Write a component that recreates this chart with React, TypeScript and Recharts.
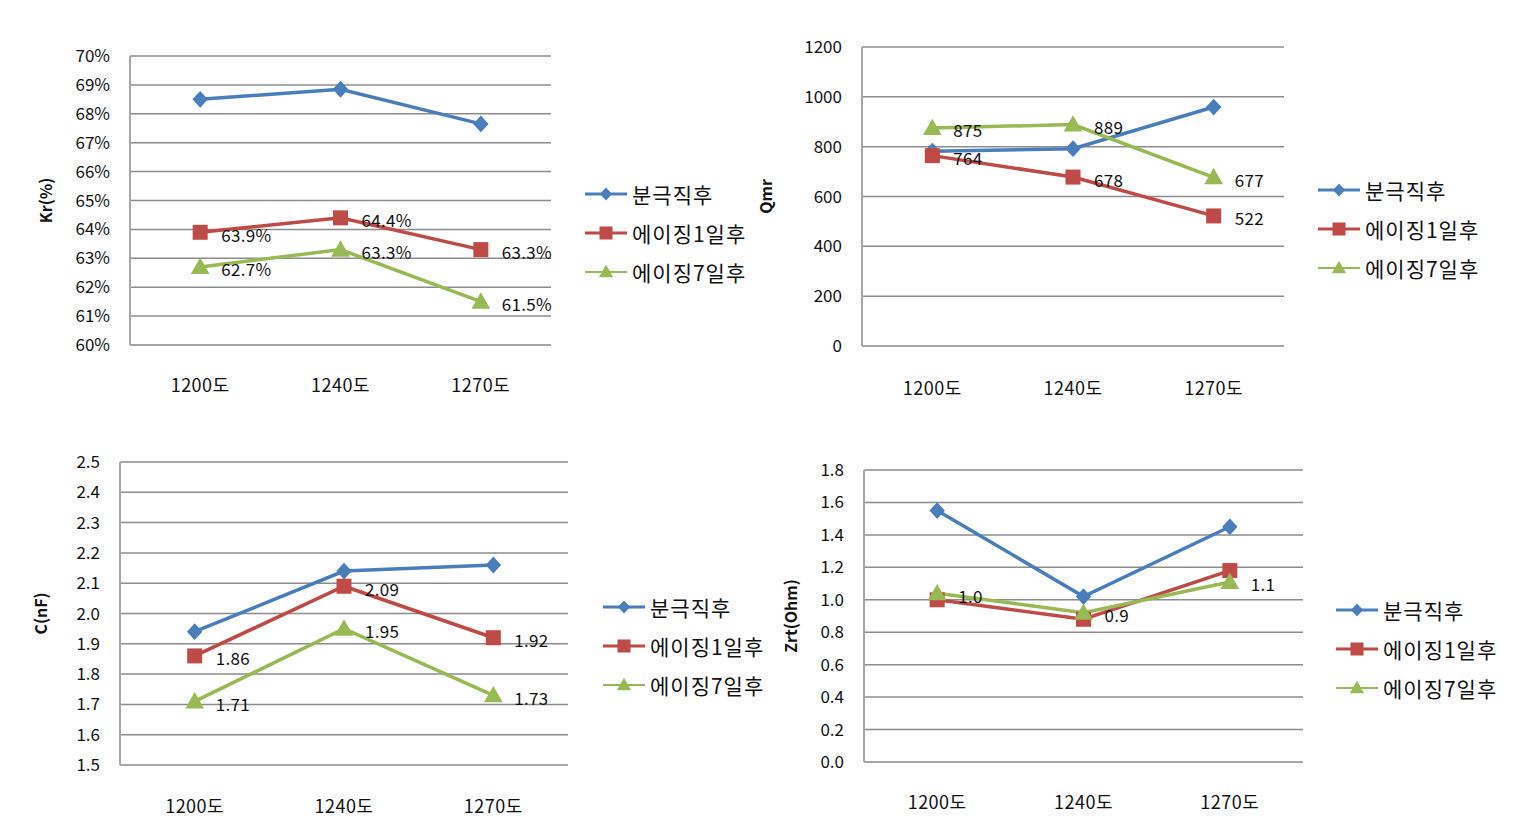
import { LineChart, Line, XAxis, YAxis, CartesianGrid, Legend, LabelList } from "recharts";

const categories = ["1200도", "1240도", "1270도"];
const seriesNames = ["분극직후", "에이징1일후", "에이징7일후"];

// Kr(%)
const krPolarized = [68.5, 68.85, 67.65];
const krAging1 = [63.9, 64.4, 63.3];
const krAging7 = [62.7, 63.3, 61.5];
const krTicks = [60, 61, 62, 63, 64, 65, 66, 67, 68, 69, 70];

// Qmr
const qmrPolarized = [782, 792, 959];
const qmrAging1 = [764, 678, 522];
const qmrAging7 = [875, 889, 677];
const qmrTicks = [0, 200, 400, 600, 800, 1000, 1200];

// C(nF)
const capPolarized = [1.94, 2.14, 2.16];
const capAging1 = [1.86, 2.09, 1.92];
const capAging7 = [1.71, 1.95, 1.73];
const capTicks = [1.5, 1.6, 1.7, 1.8, 1.9, 2.0, 2.1, 2.2, 2.3, 2.4, 2.5];

// Zrt(Ohm)
const zrtPolarized = [1.55, 1.02, 1.45];
const zrtAging1 = [1.0, 0.88, 1.18];
const zrtAging7 = [1.04, 0.92, 1.11];
const zrtTicks = [0, 0.2, 0.4, 0.6, 0.8, 1.0, 1.2, 1.4, 1.6, 1.8];

const BLUE = "#4A7EBB";
const RED = "#BE4B48";
const GREEN = "#98B954";
const GRID = "#8c8c8c";
const BORDER = "#a6a6a6";
const FONT = '"Noto Sans CJK KR", "Noto Sans", sans-serif';
const colors = [BLUE, RED, GREEN];

const build = (a: number[], b: number[], c: number[]) =>
  categories.map((cat, i) => ({ cat, s0: a[i], s1: b[i], s2: c[i] }));

function Marker({ kind, cx, cy, color, size }: { kind: number; cx: number; cy: number; color: string; size: number }) {
  if (kind === 0) {
    const h = size * 0.55;
    const v = size * 0.6;
    return <polygon points={`${cx},${cy - v} ${cx + h},${cy} ${cx},${cy + v} ${cx - h},${cy}`} fill={color} />;
  }
  if (kind === 1) {
    const h = size / 2;
    return <rect x={cx - h} y={cy - h} width={size} height={size} fill={color} />;
  }
  const h = size * 0.55;
  return <polygon points={`${cx},${cy - h} ${cx + h},${cy + h * 0.75} ${cx - h},${cy + h * 0.75}`} fill={color} />;
}

const sizes = [14, 15, 17];

const makeDot = (kind: number) => (props: any) => {
  const { cx, cy, index } = props;
  if (cx == null || cy == null) return <g key={`d-${kind}-${index}`} />;
  return (
    <g key={`d-${kind}-${index}`}>
      <Marker kind={kind} cx={cx} cy={cy} color={colors[kind]} size={sizes[kind]} />
    </g>
  );
};

const makeLabel = (fmt: (v: number) => string) => (props: any) => {
  const { x, y, value, index } = props;
  return (
    <text key={`l-${index}`} x={x + 21} y={y + 2} fontSize={17} letterSpacing={0.3} fontFamily={FONT} fill="#111" dominantBaseline="central" textAnchor="start">
      {fmt(Number(value))}
    </text>
  );
};

const makeTitle = (title: string, x: number) => (props: any) => {
  const vb = props.viewBox || {};
  const cy = (vb.y || 0) + (vb.height || 0) / 2;
  return (
    <text x={x} y={cy} transform={`rotate(-90 ${x} ${cy})`} textAnchor="middle" dominantBaseline="central" fontSize={16} fontWeight="bold" fontFamily={FONT} fill="#111">
      {title}
    </text>
  );
};

function LegendBox() {
  return (
    <div style={{ fontFamily: FONT }}>
      {seriesNames.map((name, i) => (
        <div key={name} style={{ display: "flex", alignItems: "center", height: 39 }}>
          <svg width={44} height={20} style={{ flex: "none" }}>
            <line x1={0} y1={10} x2={42} y2={10} stroke={colors[i]} strokeWidth={i === 2 ? 2 : 3} />
            <Marker kind={i} cx={21} cy={10} color={colors[i]} size={[11, 13, 13][i]} />
          </svg>
          <span style={{ fontSize: 21, color: "#111", marginLeft: 3, letterSpacing: 1, whiteSpace: "nowrap" }}>{name}</span>
        </div>
      ))}
    </div>
  );
}

type PanelProps = {
  left: number;
  top: number;
  width: number;
  height: number;
  margin: { top: number; right: number; bottom: number; left: number };
  yWidth: number;
  xHeight: number;
  data: any[];
  ticks: number[];
  tickFmt: (v: number) => string;
  labelFmt: (v: number) => string;
  labelSeries: number[];
  title: string;
  titleX: number;
  legendLeft: number;
  legendTop: number;
};

function Panel(p: PanelProps) {
  const domain: [number, number] = [p.ticks[0], p.ticks[p.ticks.length - 1]];
  return (
    <div style={{ position: "absolute", left: p.left, top: p.top }}>
      <LineChart width={p.width} height={p.height} data={p.data} margin={p.margin}>
        <CartesianGrid vertical={false} stroke={GRID} strokeWidth={1.5} />
        <XAxis
          dataKey="cat"
          scale="band"
          height={p.xHeight}
          tickLine={false}
          tickSize={0}
          tickMargin={p.xHeight - 6}
          axisLine={{ stroke: BORDER, strokeWidth: 2 }}
          tick={{ fill: "#111", fontSize: 18, letterSpacing: 0.5, fontFamily: FONT }}
        />
        <YAxis
          width={p.yWidth}
          domain={domain}
          ticks={p.ticks}
          interval={0}
          tickFormatter={p.tickFmt}
          tickLine={false}
          tickSize={0}
          tickMargin={20}
          axisLine={{ stroke: BORDER, strokeWidth: 2 }}
          tick={{ fill: "#111", fontSize: 17, fontFamily: FONT }}
          label={{ content: makeTitle(p.title, p.titleX) }}
        />
        <YAxis yAxisId="r" orientation="right" width={0} tick={false} tickLine={false} axisLine={{ stroke: BORDER, strokeWidth: 2 }} />
        <Legend layout="vertical" align="center" verticalAlign="middle" wrapperStyle={{ left: p.legendLeft, top: p.legendTop, width: 220 }} content={() => <LegendBox />} />
        {[0, 1, 2].map((k) => (
          <Line
            key={k}
            dataKey={`s${k}`}
            name={seriesNames[k]}
            stroke={colors[k]}
            strokeWidth={3.5}
            dot={makeDot(k)}
            activeDot={false}
            isAnimationActive={false}
          >
            {p.labelSeries.includes(k) ? <LabelList dataKey={`s${k}`} content={makeLabel(p.labelFmt)} /> : null}
          </Line>
        ))}
      </LineChart>
    </div>
  );
}

export default function App() {
  return (
    <div style={{ position: "absolute", left: 0, top: 0, width: 1537, height: 837, background: "#fff", fontFamily: FONT }}>
      <Panel
        left={30}
        top={40}
        width={740}
        height={370}
        margin={{ top: 16, right: 219, bottom: 25, left: 30 }}
        yWidth={70}
        xHeight={40}
        data={build(krPolarized, krAging1, krAging7)}
        ticks={krTicks}
        tickFmt={(v) => `${v}%`}
        labelFmt={(v) => `${v.toFixed(1)}%`}
        labelSeries={[1, 2]}
        title="Kr(%)"
        titleX={15}
        legendLeft={555}
        legendTop={134}
      />
      <Panel
        left={750}
        top={30}
        width={787}
        height={390}
        margin={{ top: 17, right: 253, bottom: 32, left: 40 }}
        yWidth={72}
        xHeight={42}
        data={build(qmrPolarized, qmrAging1, qmrAging7)}
        ticks={qmrTicks}
        tickFmt={(v) => `${v}`}
        labelFmt={(v) => `${Math.round(v)}`}
        labelSeries={[1, 2]}
        title="Qmr"
        titleX={15}
        legendLeft={568}
        legendTop={140}
      />
      <Panel
        left={20}
        top={445}
        width={780}
        height={392}
        margin={{ top: 17, right: 232, bottom: 31, left: 30 }}
        yWidth={70}
        xHeight={41}
        data={build(capPolarized, capAging1, capAging7)}
        ticks={capTicks}
        tickFmt={(v) => v.toFixed(1)}
        labelFmt={(v) => v.toFixed(2)}
        labelSeries={[1, 2]}
        title="C(nF)"
        titleX={20}
        legendLeft={583}
        legendTop={142}
      />
      <Panel
        left={770}
        top={450}
        width={767}
        height={387}
        margin={{ top: 20, right: 234, bottom: 35, left: 30 }}
        yWidth={64}
        xHeight={40}
        data={build(zrtPolarized, zrtAging1, zrtAging7)}
        ticks={zrtTicks}
        tickFmt={(v) => v.toFixed(1)}
        labelFmt={(v) => v.toFixed(1)}
        labelSeries={[2]}
        title="Zrt(Ohm)"
        titleX={20}
        legendLeft={566}
        legendTop={140}
      />
    </div>
  );
}
